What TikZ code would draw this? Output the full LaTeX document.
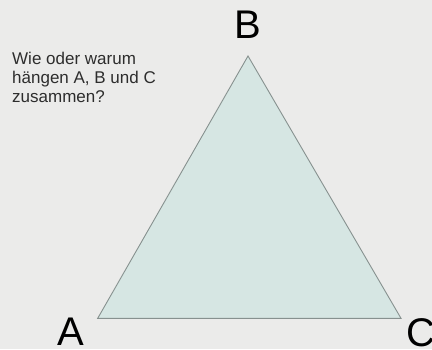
\documentclass[tikz,border=0pt]{standalone}
\usepackage{fontspec}
\setmainfont{Liberation Sans}
\definecolor{bg}{RGB}{235,235,234}
\definecolor{trifill}{RGB}{214,230,227}
\definecolor{tristroke}{RGB}{135,145,143}
\definecolor{qtext}{RGB}{45,45,45}
\tikzset{
  vlabel/.style={inner sep=0pt, anchor=base, font=\fontsize{40}{40}\selectfont, text=black},
  question/.style={inner sep=0pt, anchor=base west, align=left, text=qtext, font=\fontsize{17}{19.5}\selectfont}
}
\begin{document}
\begin{tikzpicture}[x=1pt,y=1pt]
  \fill[bg] (0,0) rectangle (432,349);
  \useasboundingbox (0,0) rectangle (432,349);
  \coordinate (A) at (97.7,30.7);
  \coordinate (B) at (248,293);
  \coordinate (C) at (401,30.7);
  \filldraw[fill=trifill, draw=tristroke, line width=0.9pt, line join=miter] (A) -- (B) -- (C) -- cycle;
  \node[vlabel] (la) at (71,3.5) {A};
  \node[vlabel] (lb) at (248,310) {B};
  \node[vlabel] (lc) at (421,2.5) {C};
  \node[question] (q) at (12,246) {Wie oder warum\\hängen A, B und C\\zusammen?};
\end{tikzpicture}
\end{document}
